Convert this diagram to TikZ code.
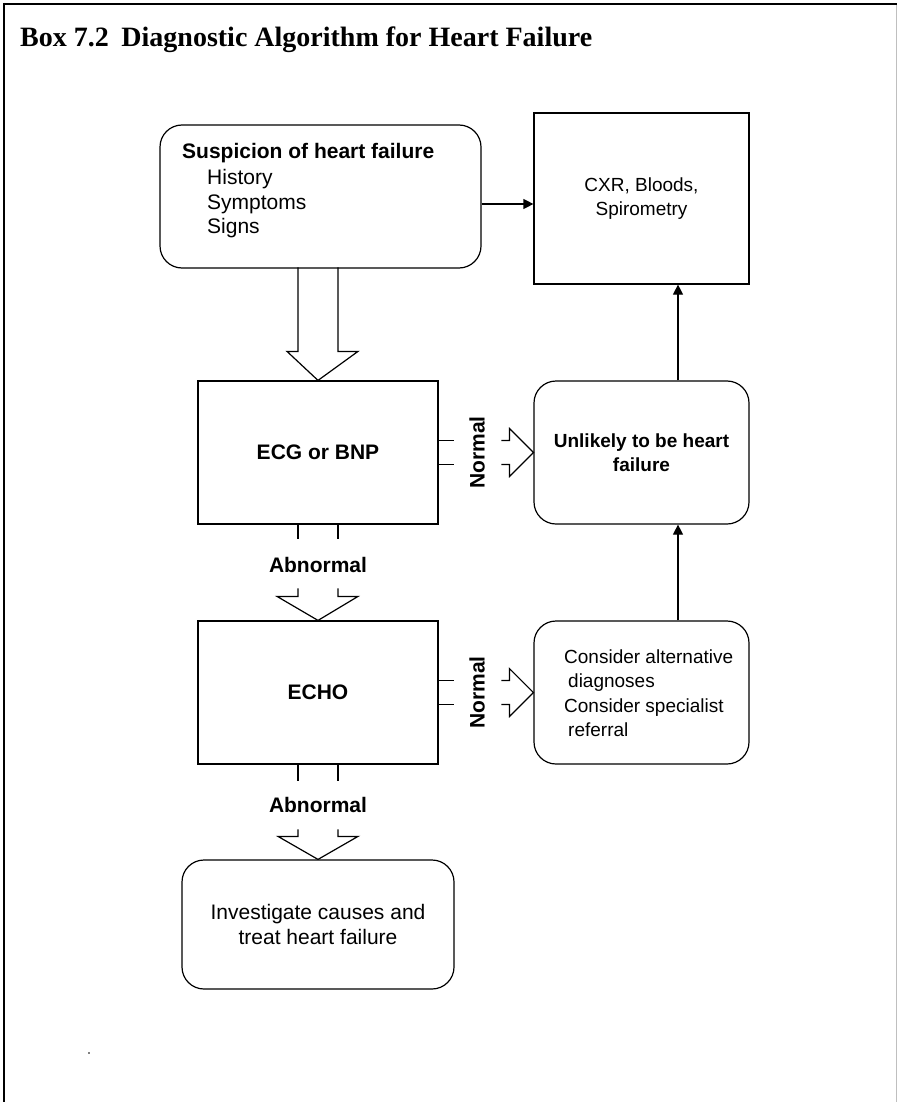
\documentclass[tikz,border=0pt]{standalone}
\usepackage{fontspec}
\setmainfont{Liberation Sans}
\newfontfamily\titlefont{Liberation Serif}
\usetikzlibrary{calc,arrows.meta}
\begin{document}
\begin{tikzpicture}[x=1pt,y=-1pt,
  ln/.style={line width=1.2pt, line join=miter},
  box/.style={draw, line width=1.2pt, inner sep=0pt, align=center,
    font=\fontsize{21}{25}\selectfont},
  rbox/.style={box, rounded corners=22pt},
  rfont/.style={font=\fontsize{19}{24.5}\selectfont},
  rbfont/.style={font=\bfseries\fontsize{19}{24.5}\selectfont},
  txt/.style={inner sep=0pt, font=\fontsize{21}{25}\selectfont},
  lbl/.style={inner sep=0pt, font=\bfseries\fontsize{21}{25}\selectfont},
  arr/.style={line width=1.2pt, -{Triangle[length=10pt,width=10pt]}}]
\useasboundingbox (0,0) rectangle (897,1102);
% frame
\draw[line width=2.5pt] (3,4) -- (897,4);
\draw[line width=1.5pt] (4,3) -- (4,1102);
\draw[line width=1pt, black!25] (896,5) -- (896,1102);
% title
\node[anchor=base west, inner sep=0pt, font=\titlefont\bfseries\fontsize{28}{34}\selectfont] (title) at (20,47) {Box 7.2\hspace{0.45em}Diagnostic Algorithm for Heart Failure};
% boxes
\node[rbox, minimum width=321pt, minimum height=143pt] (susp) at (320.5,196.5) {};
\node[txt, anchor=base west] (s1) at (182,158.5) {\bfseries Suspicion of heart failure};
\node[txt, anchor=base west] (s2) at (207,184.5) {History};
\node[txt, anchor=base west] (s3) at (207,209) {Symptoms};
\node[txt, anchor=base west] (s4) at (207,233.5) {Signs};
\node[box, rfont, minimum width=215pt, minimum height=171pt] (cxr) at (641.5,198.5) {CXR, Bloods,\\Spirometry};
\node[box, minimum width=240pt, minimum height=143pt, font=\bfseries\fontsize{21}{25}\selectfont] (ecg) at (318,452.5) {ECG or BNP};
\node[rbox, rbfont, minimum width=215pt, minimum height=143pt] (unl) at (641.5,452.5) {Unlikely to be heart\\failure};
\node[box, minimum width=240pt, minimum height=143pt, font=\bfseries\fontsize{21}{25}\selectfont] (echo) at (318,692.5) {ECHO};
\node[rbox, minimum width=215pt, minimum height=143pt] (cons) at (641.5,692.5) {};
\node[inner sep=0pt, rfont, anchor=west, align=left] (constxt) at (564,693) {Consider alternative\\\hspace*{4pt}diagnoses\\Consider specialist\\\hspace*{4pt}referral};
\node[rbox, minimum width=272pt, minimum height=129pt] (inv) at (318,924.5) {Investigate causes and\\treat heart failure};
% block arrow susp -> ecg
\draw[ln] ($(ecg.north)+(-20,-113)$) -- ++(0,84) -- ++(-11,0) -- (ecg.north) -- ++(40,-29) -- ++(-20,0) -- ++(0,-84);
% abnormal 1
\draw[ln] ($(ecg.south)+(-20,0)$) -- ++(0,14);
\draw[ln] ($(ecg.south)+(20,0)$) -- ++(0,14);
\node[lbl] (abn1) at (318,565) {Abnormal};
\draw[ln] ($(echo.north)+(-20,-32)$) -- ++(0,8) -- ++(-21,0) -- (echo.north) -- ++(40,-24) -- ++(-20,0) -- ++(0,-8);
% abnormal 2
\draw[ln] ($(echo.south)+(-20,0)$) -- ++(0,16);
\draw[ln] ($(echo.south)+(20,0)$) -- ++(0,16);
\node[lbl] (abn2) at (318,805) {Abnormal};
\draw[ln] ($(inv.north)+(-20,-30)$) -- ++(0,7) -- ++(-20,0) -- (inv.north) -- ++(40,-23) -- ++(-20,0) -- ++(0,-7);
% normal 1
\draw[ln] ($(ecg.east)+(0,-12)$) -- ++(15,0);
\draw[ln] ($(ecg.east)+(0,12)$) -- ++(15,0);
\node[lbl, rotate=90] (nor1) at (477,452.5) {Normal};
\draw[ln] ($(unl.west)+(-32,-12)$) -- ++(8,0) -- ++(0,-12) -- (unl.west) -- ++(-24,24) -- ++(0,-12) -- ++(-8,0);
% normal 2
\draw[ln] ($(echo.east)+(0,-12)$) -- ++(15,0);
\draw[ln] ($(echo.east)+(0,12)$) -- ++(15,0);
\node[lbl, rotate=90] (nor2) at (477,692.5) {Normal};
\draw[ln] ($(cons.west)+(-32,-12)$) -- ++(8,0) -- ++(0,-12) -- (cons.west) -- ++(-24,24) -- ++(0,-12) -- ++(-8,0);
% thin arrows
\draw[arr] ($(susp.east)+(0,7.5)$) -- ($(cxr.west)+(0,5.5)$);
\draw[arr] ($(unl.north)+(36.5,0)$) -- ($(cxr.south)+(36.5,0)$);
\draw[arr] ($(cons.north)+(36.5,0)$) -- ($(unl.south)+(36.5,0)$);
% stray dot
\node[circle, fill, inner sep=0.6pt] (dot) at (89,1053) {};
\end{tikzpicture}
\end{document}
